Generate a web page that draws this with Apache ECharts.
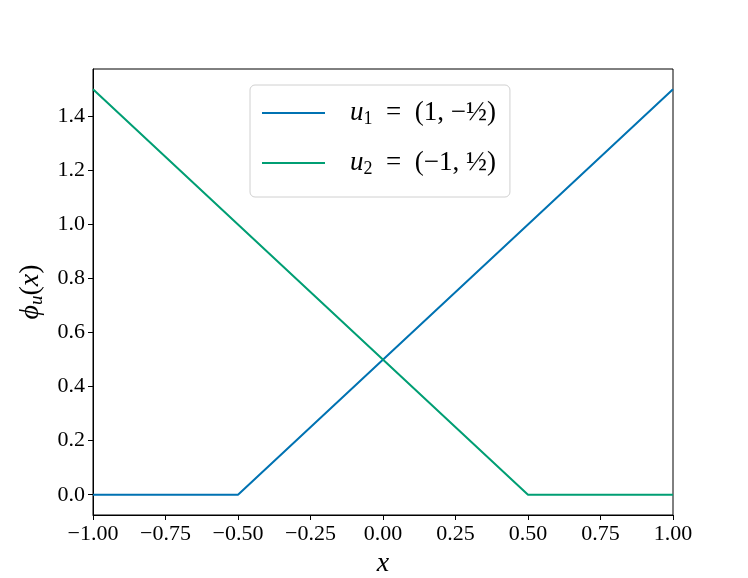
<!DOCTYPE html>
<html>
<head>
<meta charset="utf-8">
<script src="https://cdn.jsdelivr.net/npm/echarts@6/dist/echarts.min.js"></script>
<style>
  html, body { margin: 0; padding: 0; background: #fff; }
  #chart { width: 748px; height: 578px; }
</style>
</head>
<body>
<div id="chart"></div>
<script>
// breakpoints of the two piecewise-linear curves
const xs = [-1, -0.5, 0.5, 1];
const u1Vals = [0, 0, 1, 1.5];
const u2Vals = [1.5, 1, 0, 0];
const xTicks = [-1, -0.75, -0.5, -0.25, 0, 0.25, 0.5, 0.75, 1];
const yTicks = [0, 0.2, 0.4, 0.6, 0.8, 1.0, 1.2, 1.4];

const serif = "Liberation Serif";
const minus = v => (v < 0 ? "\u2212" : "");

const chart = echarts.init(document.getElementById("chart"));

const option = {
  animation: false,
  backgroundColor: "#fff",
  textStyle: { fontFamily: serif },
  grid: {
    left: 93, right: 75, top: 69, bottom: 63,
    containLabel: false,
    outerBoundsMode: "none",
    show: true, borderColor: "#000", borderWidth: 1
  },
  legend: {
    orient: "vertical",
    left: 250, top: 85,
    padding: [13, 14, 19, 12],
    itemGap: 20,
    itemWidth: 63,
    itemHeight: 2,
    icon: "rect",
    backgroundColor: "#fff",
    borderColor: "#d0d0d0",
    borderWidth: 1,
    borderRadius: 5,
    data: ["u1", "u2"],
    formatter: name => {
      const sub = name === "u1" ? "1" : "2";
      const inner = name === "u1" ? "(1, \u2212" : "(\u22121, ";
      return "{i|u}{s|" + sub + "}{n|  =  " + inner + "}{f|\u00BD}{n|)}";
    },
    textStyle: {
      fontFamily: serif,
      fontSize: 27,
      color: "#000",
      lineHeight: 30,
      padding: [0, 0, 0, 20],
      rich: {
        i: { fontFamily: serif, fontStyle: "italic", fontSize: 27, color: "#000", lineHeight: 30 },
        s: { fontFamily: serif, fontSize: 18, color: "#000", verticalAlign: "bottom", lineHeight: 22 },
        n: { fontFamily: serif, fontSize: 27, color: "#000", lineHeight: 30 },
        f: { fontFamily: serif, fontSize: 28, color: "#000", lineHeight: 30 }
      }
    }
  },
  xAxis: {
    type: "value",
    min: -1, max: 1, interval: 0.25,
    name: "{i|x}",
    nameLocation: "middle",
    nameGap: 33,
    nameTextStyle: {
      rich: { i: { fontFamily: serif, fontStyle: "italic", fontSize: 28, color: "#000" } }
    },
    axisLine: { show: true, onZero: false, lineStyle: { color: "#000", width: 1 } },
    axisTick: { show: true, inside: false, length: 5, lineStyle: { color: "#000" } },
    splitLine: { show: false },
    axisLabel: {
      color: "#000", fontSize: 22, fontFamily: serif, margin: 8,
      formatter: v => minus(v) + Math.abs(v).toFixed(2)
    }
  },
  yAxis: {
    type: "value",
    min: -0.075, max: 1.575,
    name: "{i|\u03D5}{s|u}{n|(}{i|x}{n|)}",
    nameLocation: "middle",
    nameGap: 44,
    nameRotate: 90,
    nameTextStyle: {
      rich: {
        i: { fontFamily: serif, fontStyle: "italic", fontSize: 28, color: "#000", lineHeight: 32 },
        s: { fontFamily: serif, fontStyle: "italic", fontSize: 19, color: "#000", verticalAlign: "bottom", lineHeight: 24 },
        n: { fontFamily: serif, fontSize: 28, color: "#000", lineHeight: 32 }
      }
    },
    axisLine: { show: true, onZero: false, lineStyle: { color: "#000", width: 1 } },
    axisTick: { show: true, inside: false, length: 5, customValues: yTicks, lineStyle: { color: "#000" } },
    splitLine: { show: false },
    axisLabel: {
      color: "#000", fontSize: 22, fontFamily: serif, margin: 8,
      customValues: yTicks,
      formatter: v => v.toFixed(1)
    }
  },
  series: [
    {
      name: "u1",
      type: "line",
      data: xs.map((x, i) => [x, u1Vals[i]]),
      showSymbol: false,
      symbol: "none",
      color: "#0072B2",
      lineStyle: { width: 2, color: "#0072B2" }
    },
    {
      name: "u2",
      type: "line",
      data: xs.map((x, i) => [x, u2Vals[i]]),
      showSymbol: false,
      symbol: "none",
      color: "#009E73",
      lineStyle: { width: 2, color: "#009E73" }
    }
  ]
};

chart.setOption(option);
</script>
</body>
</html>
